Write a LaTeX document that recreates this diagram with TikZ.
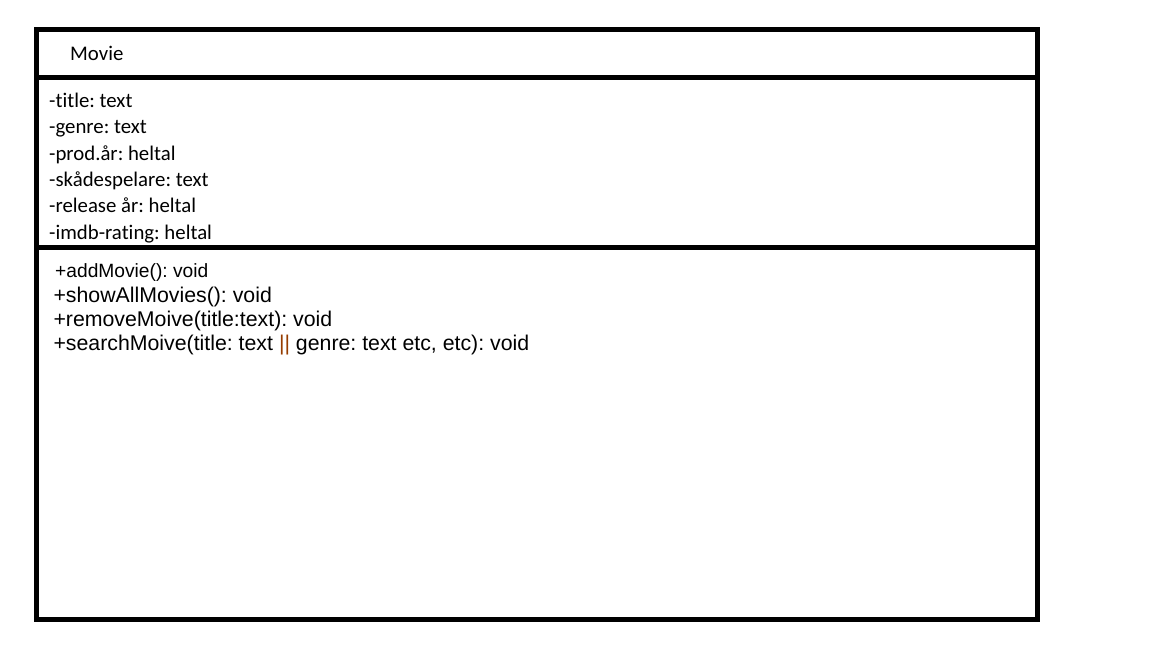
\documentclass[tikz,border=0pt]{standalone}
\usepackage{fontspec}
\setmainfont{Carlito}[Ligatures=NoCommon]
\newfontfamily\arialfont{Liberation Sans}
\usetikzlibrary{positioning}
\definecolor{barbrown}{RGB}{150,60,0}
\frenchspacing

\begin{document}
\begin{tikzpicture}[
    x=1pt, y=-1pt,
    node distance=0pt,
    compartment/.style={draw,line width=5pt,rectangle,minimum width=1001pt,inner sep=0pt,outer sep=0pt,anchor=north west},
    attr line/.style={font=\fontsize{20.8}{26}\selectfont,inner sep=0pt,text height=19pt,text depth=7pt,anchor=north west},
    method line/.style={font=\arialfont\fontsize{21.3}{24}\selectfont,inner sep=0pt,text height=17pt,text depth=7pt,anchor=north west}]

  \useasboundingbox (0,0) rectangle (1152,648);

  \node[compartment,minimum height=47.5pt] (head) at (36,29.5) {};
  \node[compartment,minimum height=170pt] (attrbox) [below=0pt of head.south west,anchor=north west] {};
  \node[compartment,minimum height=372pt] (methodbox) [below=0pt of attrbox.south west,anchor=north west] {};

  \node[attr line] (classname) [below right=12pt and 34pt of head.north west] {Movie};

  \node[attr line] (title) [below right=11pt and 13pt of attrbox.north west] {-title: text};
  \node[attr line] (genre) [below=0pt of title.south west,anchor=north west] {-genre: text};
  \node[attr line] (prodyear) [below=0pt of genre.south west,anchor=north west] {-prod.år: heltal};
  \node[attr line] (actors) [below=0pt of prodyear.south west,anchor=north west] {-skådespelare: text};
  \node[attr line] (release) [below=0pt of actors.south west,anchor=north west] {-release år: heltal};
  \node[attr line] (rating) [below=0pt of release.south west,anchor=north west] {-imdb-rating: heltal};

  \node[method line,font=\arialfont\fontsize{19.2}{24}\selectfont] (addmovie) [below right=13.5pt and 19pt of methodbox.north west] {+addMovie(): void};
  \node[method line] (showall) [below=0pt of addmovie.south west,anchor=north west,xshift=-1.7pt] {+showAllMovies(): void};
  \node[method line] (removemovie) [below=0pt of showall.south west,anchor=north west] {+removeMoive(title:text): void};
  \node[method line] (searchmovie) [below=0pt of removemovie.south west,anchor=north west] {+searchMoive(title: text {\color{barbrown}||} genre: text etc, etc): void};
\end{tikzpicture}
\end{document}
